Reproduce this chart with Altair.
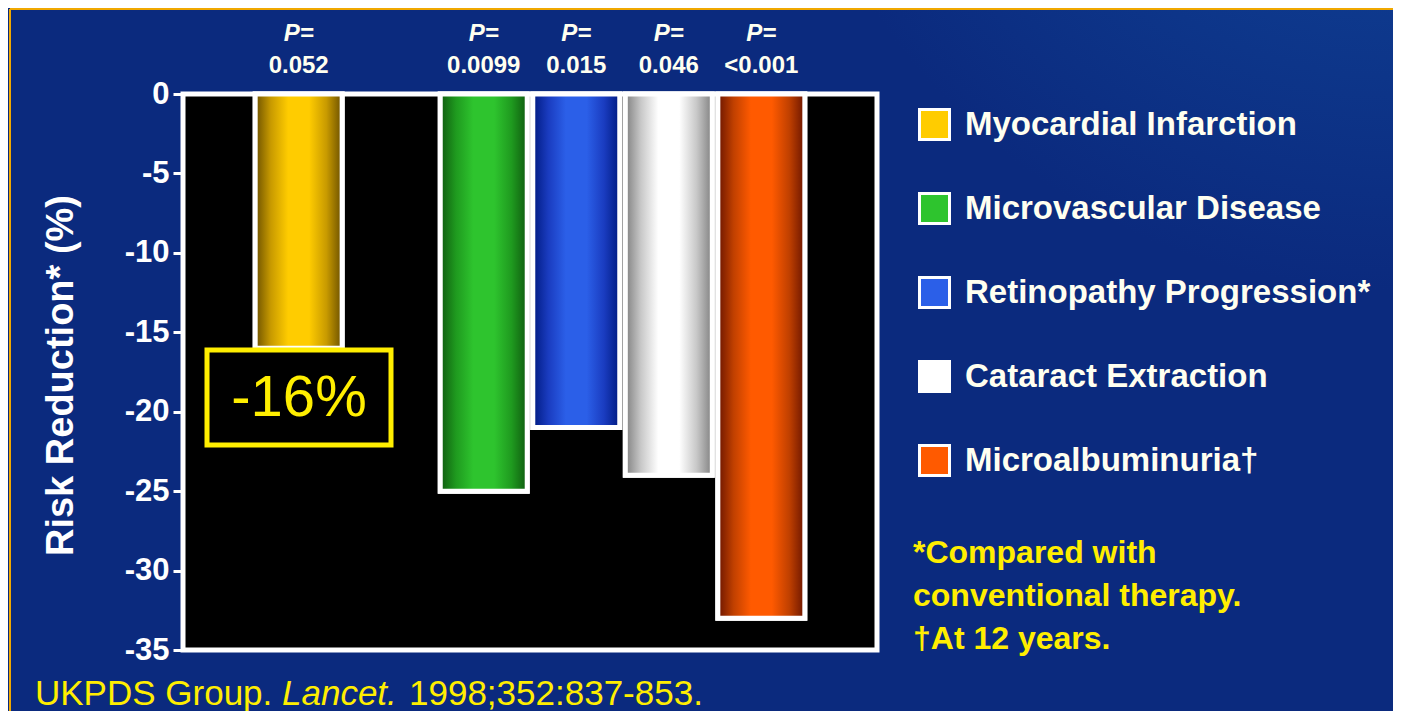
import altair as alt
import pandas as pd

# ---- data ----
categories = ["Myocardial Infarction", "Microvascular Disease", "Retinopathy Progression*",
              "Cataract Extraction", "Microalbuminuria\u2020"]
values = [-16, -25, -21, -24, -33]
p_values = ["0.052", "0.0099", "0.015", "0.046", "<0.001"]
flat_colors = ["#ffcc00", "#2ec42e", "#2b5fe8", "#ffffff", "#ff5a00"]
edge_colors = ["#6b5000", "#0f5a0f", "#001a80", "#808080", "#6b1500"]
mid_colors = ["#c89a00", "#1f9a1f", "#1a3cc0", "#c8c8c8", "#c04000"]
x_slots = ["Myocardial Infarction", "gap", "Microvascular Disease", "Retinopathy Progression*",
           "Cataract Extraction", "Microalbuminuria\u2020"]
y_ticks = [0, -5, -10, -15, -20, -25, -30, -35]

df = pd.DataFrame({"cat": categories, "value": values, "p": p_values})
one = df.iloc[:1]

W, H = 694, 556
PAD = {"left": 175, "top": 86, "right": 516, "bottom": 61}

xenc = alt.X("cat:N", scale=alt.Scale(domain=x_slots, paddingInner=0.06, paddingOuter=0.78),
             axis=None)
yscale = alt.Scale(domain=[-35, 0], nice=False)
yaxis = alt.Axis(values=y_ticks, title="Risk Reduction* (%)", grid=False, domain=False,
                 zindex=2,
                 labelExpr="replace(datum.label, '\u2212', '-')",
                 tickColor="white", tickWidth=3, tickSize=10, labelColor="white",
                 labelFont="Liberation Sans", labelFontSize=31, labelFontWeight="bold",
                 labelPadding=4, titleColor="white", titleFont="Liberation Sans",
                 titleFontSize=38, titleFontWeight="bold", titleX=-122, titleY=281,
                 titleAngle=-90, titleAlign="center", titleBaseline="middle")

# background with lighter glow at top-right
bg_grad = alt.RadialGradient(
    gradient="radial", x1=1.0, y1=0.0, r1=0.0, x2=1.0, y2=0.0, r2=0.45,
    stops=[alt.GradientStop(color="#1b5cab", offset=0),
           alt.GradientStop(color="#0e3a8e", offset=0.5),
           alt.GradientStop(color="#0b2a7e", offset=1)])
bg = alt.Chart(one).mark_rect(fill=bg_grad).encode(
    x=alt.value(-PAD["left"]), x2=alt.value(W + PAD["right"]),
    y=alt.value(-PAD["top"]), y2=alt.value(H + PAD["bottom"]))
frame_top = alt.Chart(one).mark_rule(color="#f0a800", strokeWidth=2).encode(
    x=alt.value(-PAD["left"] + 2), x2=alt.value(W + PAD["right"]), y=alt.value(-PAD["top"] + 1))
frame_left = alt.Chart(one).mark_rule(color="#f0a800", strokeWidth=2).encode(
    x=alt.value(-PAD["left"] + 2), y=alt.value(-PAD["top"] + 1), y2=alt.value(H + PAD["bottom"]))
plot_bg = alt.Chart(one).mark_rect(fill="black", stroke="white", strokeWidth=5).encode(
    x=alt.value(0), x2=alt.value(W), y=alt.value(0), y2=alt.value(H))

base = alt.Chart(df).mark_bar(stroke="white", strokeWidth=5).encode(
    x=xenc,
    y=alt.Y("value:Q", scale=yscale, axis=yaxis),
    y2=alt.datum(0),
    color=alt.Color("cat:N", scale=alt.Scale(domain=categories, range=flat_colors),
                    legend=alt.Legend(title=None, orient="none", legendX=735, legendY=14,
                                      symbolType="square", symbolSize=900,
                                      symbolStrokeColor="white", symbolStrokeWidth=3,
                                      symbolOpacity=1, labelColor="#fffff0",
                                      labelFont="Liberation Sans", labelFontSize=33,
                                      labelFontWeight="bold", labelOffset=14,
                                      rowPadding=41, padding=0, labelLimit=600)),
)

layers = [bg, frame_top, frame_left, plot_bg, base]
for c, fc, ec, mc in zip(categories, flat_colors, edge_colors, mid_colors):
    grad = alt.LinearGradient(
        gradient="linear", x1=0, x2=1, y1=0, y2=0,
        stops=[alt.GradientStop(color=ec, offset=0),
               alt.GradientStop(color=mc, offset=0.18),
               alt.GradientStop(color=fc, offset=0.38),
               alt.GradientStop(color=fc, offset=0.62),
               alt.GradientStop(color=mc, offset=0.82),
               alt.GradientStop(color=ec, offset=1)])
    layers.append(
        alt.Chart(df).transform_filter(alt.datum.cat == c)
        .mark_bar(fill=grad, stroke="white", strokeWidth=5)
        .encode(x=xenc, y=alt.Y("value:Q", scale=yscale), y2=alt.datum(0))
    )

ptxt = alt.Chart(df).mark_text(font="Liberation Sans", fontSize=24, fontStyle="italic",
                               fontWeight="bold", color="#fffff0").encode(
    x=xenc, y=alt.value(-60), text=alt.value("P="))
pval = alt.Chart(df).mark_text(font="Liberation Sans", fontSize=24, fontWeight="bold",
                               color="#fffff0").encode(
    x=xenc, y=alt.value(-28), text="p:N")

box = alt.Chart(one).mark_rect(fill="black", stroke="#ffee00", strokeWidth=5).encode(
    x=alt.value(24), x2=alt.value(208), y=alt.value(256), y2=alt.value(351))
box_txt = alt.Chart(one).mark_text(font="Liberation Sans", fontSize=58,
                                   color="#ffee00", baseline="middle").encode(
    x=alt.value(116), y=alt.value(305), text=alt.value("-16%"))

foot = alt.Chart(one).mark_text(
    font="Liberation Sans", fontSize=32, fontWeight="bold", color="#ffee00", align="left",
    baseline="alphabetic", lineBreak="\n", lineHeight=43).encode(
    x=alt.value(730), y=alt.value(469),
    text=alt.value("*Compared with\nconventional therapy.\n\u2020At 12 years."))

cit_style = dict(font="Liberation Sans", fontSize=35, color="#ffee00", align="left",
                 baseline="alphabetic")
cit1 = alt.Chart(one).mark_text(**cit_style).encode(
    x=alt.value(-148), y=alt.value(611), text=alt.value("UKPDS Group."))
cit2 = alt.Chart(one).mark_text(fontStyle="italic", **cit_style).encode(
    x=alt.value(99), y=alt.value(611), text=alt.value("Lancet."))
cit3 = alt.Chart(one).mark_text(**cit_style).encode(
    x=alt.value(226), y=alt.value(611), text=alt.value("1998;352:837-853."))

chart = alt.layer(*layers, ptxt, pval, box, box_txt, foot, cit1, cit2, cit3).properties(
    width=W, height=H,
    autosize=alt.AutoSizeParams(type="none"),
    padding=PAD,
    background="#0b2a7e",
).configure_view(fill="black", stroke=None)

chart.save("out.html", embed_options={"renderer": "svg", "actions": False})
